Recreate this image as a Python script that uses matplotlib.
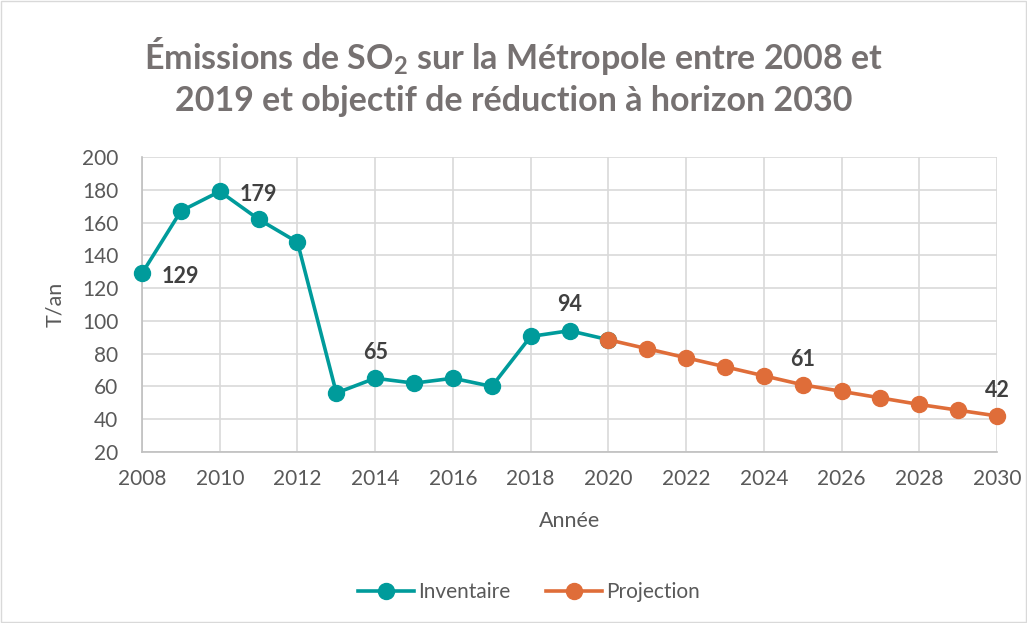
import matplotlib
matplotlib.use("Agg")
import matplotlib.pyplot as plt
from matplotlib.patches import Rectangle

plt.rcParams['font.family'] = ['Lato', 'DejaVu Sans']
plt.rcParams['mathtext.fontset'] = 'custom'
plt.rcParams['mathtext.rm'] = 'Lato'
plt.rcParams['mathtext.bf'] = 'Lato:bold'

# données
annees_inv = [2008, 2009, 2010, 2011, 2012, 2013, 2014, 2015, 2016, 2017, 2018, 2019, 2020]
inventaire = [129, 167, 179, 162, 148, 56, 65, 62, 65, 60, 90.5, 94, 88.5]
annees_proj = [2020, 2021, 2022, 2023, 2024, 2025, 2026, 2027, 2028, 2029, 2030]
projection = [88.5, 83, 77.5, 72, 66.5, 61, 57, 53, 49, 45.5, 42]

# étiquettes affichées : année -> position
etiquettes_inv = {2008: 'right', 2010: 'right', 2014: 'top', 2019: 'top'}
etiquettes_proj = {2025: 'top', 2030: 'top'}

teal = '#009B9B'
orange = '#DF6D39'
gris = '#595959'

fig = plt.figure(figsize=(10.27, 6.23), dpi=100)
ax = fig.add_axes([0.1383, 0.2745, 0.8325, 0.4735])

ax.plot(annees_inv, inventaire, color=teal, lw=2.6, marker='o', ms=11.5, label='Inventaire',
        zorder=5, clip_on=False)
ax.plot(annees_proj, projection, color=orange, lw=2.6, marker='o', ms=11.5, label='Projection',
        zorder=5, clip_on=False)

def etiqueter(xs, ys, quelles):
    for x, y in zip(xs, ys):
        if x not in quelles:
            continue
        if quelles[x] == 'right':
            ax.annotate(f"{y:.0f}", (x, y), xytext=(14, -2), textcoords='offset points',
                        ha='left', va='center', fontsize=15.5, fontweight='bold', color='#404040')
        else:
            ax.annotate(f"{y:.0f}", (x, y), xytext=(0, 11), textcoords='offset points',
                        ha='center', va='bottom', fontsize=15.5, fontweight='bold', color='#404040')

etiqueter(annees_inv, inventaire, etiquettes_inv)
etiqueter(annees_proj, projection, etiquettes_proj)

ax.set_xlim(2008, 2030)
ax.set_ylim(20, 200)
ax.set_xticks(range(2008, 2031, 2))
ax.set_yticks(range(20, 201, 20))
ax.grid(True, color='#D9D9D9', lw=1.2)
ax.set_axisbelow(True)
ax.tick_params(length=0, labelsize=15, colors=gris)
ax.tick_params(axis='y', pad=17)
ax.tick_params(axis='x', pad=12)
for s in ['top', 'right']:
    ax.spines[s].set_visible(False)
for s in ['left', 'bottom']:
    ax.spines[s].set_color('#BFBFBF')
    ax.spines[s].set_linewidth(1.2)
    ax.spines[s].set_zorder(4)

ax.set_ylabel('T/an', fontsize=15.5, color=gris, labelpad=12)
ax.set_xlabel('Année', fontsize=15.5, color=gris, labelpad=16)

fig.text(0.5, 0.878, "Émissions de SO$_\\mathbf{2}$ sur la Métropole entre 2008 et\n2019 et objectif de réduction à horizon 2030",
         ha='center', va='center', fontsize=24.5, fontweight='bold', color='#767171', linespacing=1.3)

fig.legend(loc='center', bbox_to_anchor=(0.515, 0.05), ncol=2, frameon=False, fontsize=15,
           labelcolor=gris, handlelength=2.7, columnspacing=1.7, handletextpad=0.2)

fig.patches.append(Rectangle((0.001, 0.001), 0.998, 0.998, transform=fig.transFigure,
                             fill=False, edgecolor='#D9D9D9', lw=1))

fig.savefig('out.png', dpi=100, facecolor='white')
